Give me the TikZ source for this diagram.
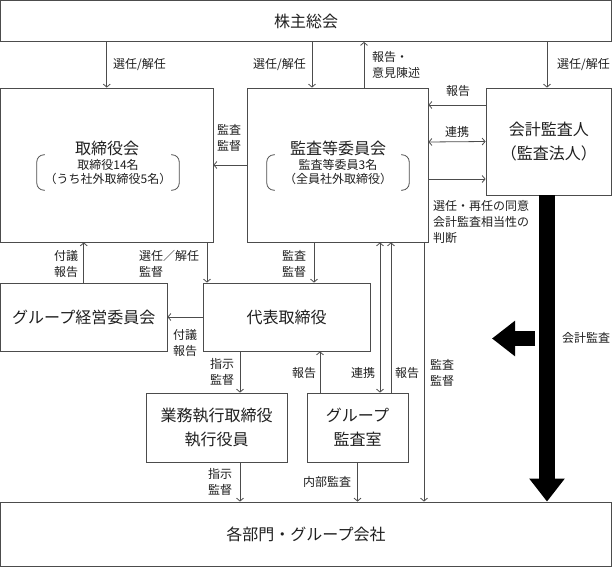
\documentclass[tikz,border=0pt]{standalone}
\usepackage{fontspec}
\setmainfont{Noto Sans CJK JP}
\usepackage{tikz}
\usetikzlibrary{arrows.meta}

\definecolor{lncol}{gray}{0.3}
\definecolor{txcol}{gray}{0.12}

\tikzset{
  box/.style={draw=lncol,line width=0.8pt,inner sep=0pt,text=txcol,align=center,
    font=\fontsize{16}{24}\selectfont},
  sub/.style={inner sep=0pt,text=txcol,align=center,font=\fontsize{12}{14}\selectfont,
    minimum width=142pt,minimum height=35pt},
  lbl/.style={inner sep=0pt,text=txcol,align=center,font=\fontsize{12}{16}\selectfont},
  brk/.style={draw=lncol,line width=0.8pt,rounded corners=7pt},
  arr/.style={draw=lncol,line width=0.8pt,-{Straight Barb[length=3pt,width=7pt]}},
  arrb/.style={draw=lncol,line width=0.8pt,
    {Straight Barb[length=3pt,width=7pt]}-{Straight Barb[length=3pt,width=7pt]}},
  fat/.style={draw=black,line width=15.5pt,-{Triangle[length=23pt,width=34pt]}}
}

\begin{document}
\begin{tikzpicture}[x=1pt,y=-1pt]
	\useasboundingbox (0,0) rectangle (612,567);

	\node[box,minimum width=611pt,minimum height=41pt] (kabu) at (306,21) {株主総会};
	\node[box,minimum width=212.5pt,minimum height=154pt] (tori) at (106.75,165) {};
	\node[box,minimum width=181pt,minimum height=154pt] (kansa) at (337.5,165) {};
	\node[box,minimum width=125.5pt,minimum height=107pt] (kaikei) at (548.75,141.5) {会計監査人\\（監査法人）};
	\node[box,minimum width=166.5pt,minimum height=68pt] (keiei) at (83.75,317) {グループ経営委員会};
	\node[box,minimum width=167pt,minimum height=68pt] (daihyo) at (286.5,317) {代表取締役};
	\node[box,minimum width=141pt,minimum height=69pt] (gyomu) at (216.5,427.5) {業務執行取締役\\執行役員};
	\node[box,minimum width=101pt,minimum height=69pt] (audit) at (357.5,427.5) {グループ\\監査室};
	\node[box,minimum width=611pt,minimum height=64.5pt] (kakubu) at (306,534.25) {各部門・グループ会社};

	\node[box,draw=none] (toriname) at (107,148) {取締役会};
	\node[box,draw=none] (kansaname) at (338,148) {監査等委員会};
	\node[sub] (torisub) at (108,172.5) {取締役14名\\（うち社外取締役5名）};
	\node[sub] (kansasub) at (338,172.5) {監査等委員3名\\（全員社外取締役）};
	\foreach \n in {torisub,kansasub}{
		\draw[brk] ([xshift=8pt]\n.north west) -- (\n.north west) -- (\n.south west) -- ([xshift=8pt]\n.south west);
		\draw[brk] ([xshift=-8pt]\n.north east) -- (\n.north east) -- (\n.south east) -- ([xshift=-8pt]\n.south east);
	}

	\node[lbl,anchor=west] (senA) at (113,65) {選任/解任};
	\node[lbl,anchor=east] (senB) at (306,65) {選任/解任};
	\node[lbl,anchor=west,align=left] (hokA) at (372,65) {報告・\\意見陳述};
	\node[lbl,anchor=west] (senC) at (557,65) {選任/解任};
	\node[lbl] (hokB) at (458,91) {報告};
	\node[lbl] (renA) at (457,132) {連携};
	\node[lbl,anchor=west,align=left] (doui) at (433,222) {選任・再任の同意\\会計監査相当性の\\判断};
	\node[lbl] (kanA) at (229,138) {監査\\監督};
	\node[lbl] (fugA) at (66,263.5) {付議\\報告};
	\node[lbl,anchor=west,align=left] (senD) at (139,263.5) {選任／解任\\監督};
	\node[lbl] (kanB) at (294,263.5) {監査\\監督};
	\node[lbl] (fugB) at (185,343) {付議\\報告};
	\node[lbl] (shiA) at (222,371.5) {指示\\監督};
	\node[lbl] (hokC) at (304,373) {報告};
	\node[lbl] (renB) at (363,373) {連携};
	\node[lbl] (hokD) at (407,373) {報告};
	\node[lbl] (kanC) at (442,372.5) {監査\\監督};
	\node[lbl] (shiB) at (220,481.5) {指示\\監督};
	\node[lbl] (naibu) at (327,482) {内部監査};
	\node[lbl] (kaikan) at (586,338) {会計監査};

	\draw[arr] (tori.north |- kabu.south) -- (tori.north);
	\draw[arr] ([xshift=-25.5pt]kansa.north |- kabu.south) -- ([xshift=-25.5pt]kansa.north);
	\draw[arr] ([xshift=26.5pt]kansa.north) -- ([xshift=26.5pt]kansa.north |- kabu.south);
	\draw[arr] ([xshift=-1.75pt]kaikei.north |- kabu.south) -- ([xshift=-1.75pt]kaikei.north);

	\draw[arr] (kansa.west) -- (tori.east);
	\draw[arr] ([yshift=36.5pt]kaikei.west) -- ([yshift=60pt]kansa.east);
	\draw[arrb] ([yshift=23pt]kansa.east) -- (kaikei.west);
	\draw[arr] ([yshift=-14pt]kansa.east) -- ([yshift=-37.5pt]kaikei.west);

	\draw[arr] ([xshift=-23.5pt]kansa.south) -- ([xshift=27.5pt]daihyo.north);
	\draw[arr] ([xshift=100.25pt]tori.south) -- ([xshift=-79.5pt]daihyo.north);
	\draw[arr] (keiei.north) -- ([xshift=-23pt]tori.south);
	\draw[arr] (daihyo.west) -- (keiei.east);
	\draw[arr] ([xshift=-46.5pt]daihyo.south) -- ([xshift=23.5pt]gyomu.north);
	\draw[arr] ([xshift=-37.5pt]audit.north) -- ([xshift=33.5pt]daihyo.south);
	\draw[arrb] ([xshift=42.5pt]kansa.south) -- ([xshift=22.5pt]audit.north);
	\draw[arr] ([xshift=33.5pt]audit.north) -- ([xshift=53.5pt]kansa.south);
	\draw[arr] ([xshift=86.5pt]kansa.south) -- ([xshift=118pt]kakubu.north);
	\draw[arr] ([xshift=23.5pt]gyomu.south) -- ([xshift=-66pt]kakubu.north);
	\draw[arr] (audit.south) -- ([xshift=51.5pt]kakubu.north);

	\draw[fat] ([xshift=-1.75pt]kaikei.south) -- ([xshift=241pt]kakubu.north);
	\coordinate (hint) at (535,338.5);
	\draw[fat] (hint) -- ++(-43,0);
\end{tikzpicture}
\end{document}
